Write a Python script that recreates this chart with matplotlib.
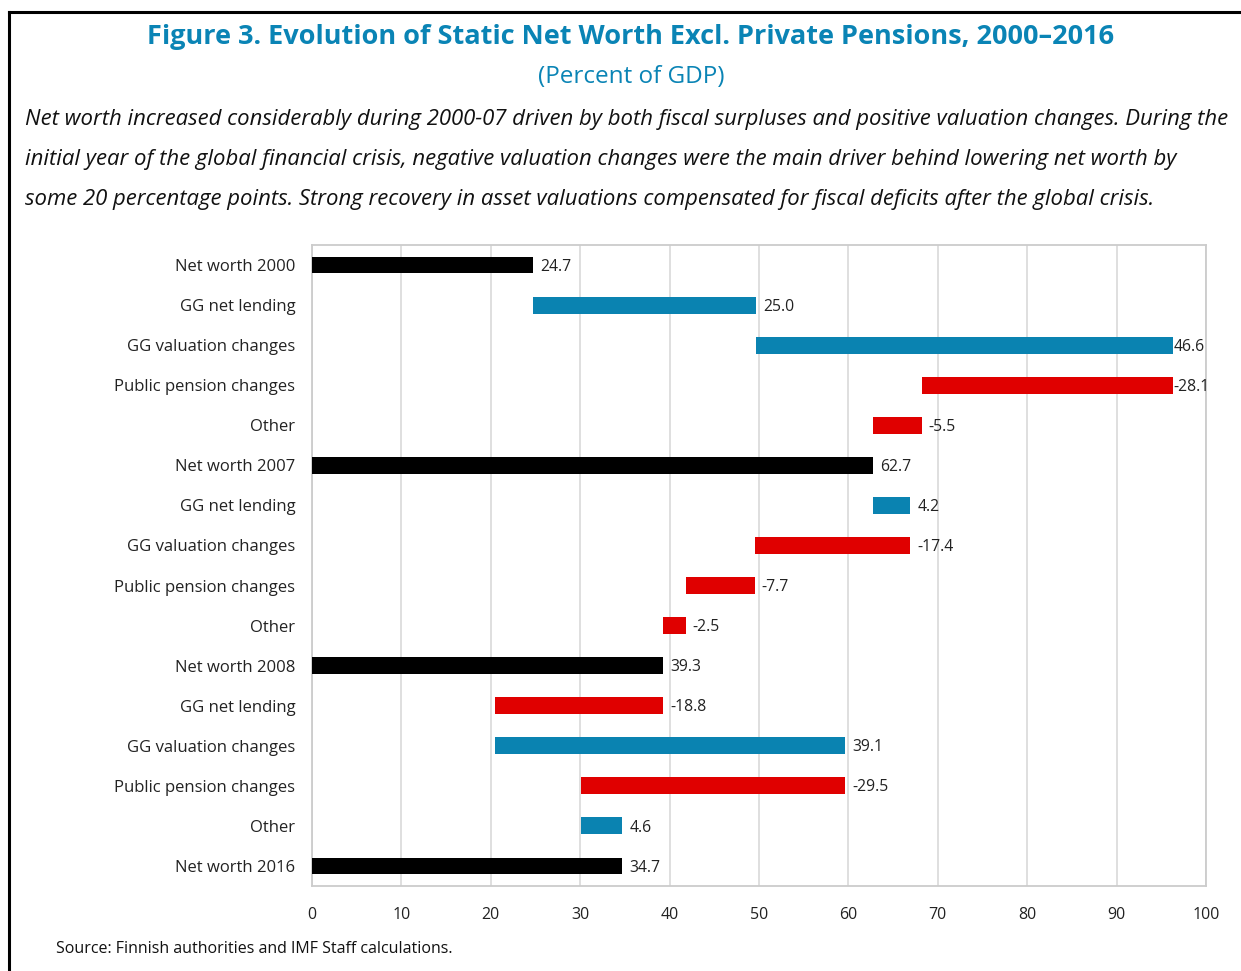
import matplotlib
matplotlib.use("Agg")
import matplotlib.pyplot as plt
from matplotlib.lines import Line2D

categories = ["Net worth 2000", "GG net lending", "GG valuation changes", "Public pension changes", "Other",
              "Net worth 2007", "GG net lending", "GG valuation changes", "Public pension changes", "Other",
              "Net worth 2008", "GG net lending", "GG valuation changes", "Public pension changes", "Other",
              "Net worth 2016"]
values = [24.7, 25.0, 46.6, -28.1, -5.5,
          62.7, 4.2, -17.4, -7.7, -2.5,
          39.3, -18.8, 39.1, -29.5, 4.6,
          34.7]
is_total = [True, False, False, False, False,
            True, False, False, False, False,
            True, False, False, False, False,
            True]
xticks = [0, 10, 20, 30, 40, 50, 60, 70, 80, 90, 100]

BLUE = "#0A83B1"
RED = "#E00000"
BLACK = "#000000"
FONT = "Open Sans"

W, H = 1241, 971
fig = plt.figure(figsize=(W / 100, H / 100), dpi=100)
fig.patch.set_facecolor("white")

# frame lines (top and left)
fig.add_artist(Line2D([9 / W, 1.0], [1 - 12 / H, 1 - 12 / H], color="black", lw=2.2, transform=fig.transFigure))
fig.add_artist(Line2D([9 / W, 9 / W], [0, 1 - 12 / H], color="black", lw=2.2, transform=fig.transFigure))

ax = fig.add_axes([312 / W, 1 - 886 / H, (1206 - 312) / W, (886 - 245) / H])

running = 0.0
for i, (cat, v, tot) in enumerate(zip(categories, values, is_total)):
    if tot:
        left, width, color = 0, v, BLACK
        running = v
        right_end = v
    else:
        if v >= 0:
            left = running
            color = BLUE
        else:
            left = running + v
            color = RED
        width = abs(v)
        running = running + v
        right_end = left + width
    off = 0.1 if right_end > 95 else 0.8
    ax.text(right_end + off, i + 0.04, f"{v:.1f}", va="center", ha="left", fontsize=11.3,
            family=FONT, color="#222222", zorder=4)
    ax.barh(i, width, left=left, height=0.42, color=color, zorder=3)

ax.set_xlim(0, 100)
ax.set_ylim(15.5, -0.5)
ax.set_xticks(xticks)
ax.set_xticklabels([str(t) for t in xticks], fontsize=11.5, family=FONT)
ax.set_yticks(range(len(categories)))
ax.set_yticklabels(categories, fontsize=12, family=FONT)
ax.tick_params(axis="both", length=0, colors="#222222")
ax.tick_params(axis="y", pad=12)
ax.tick_params(axis="x", pad=15)
ax.grid(axis="x", color="#D9D9D9", lw=1.2, zorder=0)
for s in ax.spines.values():
    s.set_color("#CCCCCC")
    s.set_linewidth(1.3)

fig.text(631 / W, 1 - 37 / H, "Figure 3. Evolution of Static Net Worth Excl. Private Pensions, 2000\u20132016",
         ha="center", va="center", fontsize=19.5, fontweight="bold", color="#0A84B5", family=FONT)
fig.text(631 / W, 1 - 77 / H, "(Percent of GDP)", ha="center", va="center", fontsize=17.5,
         color="#0A84B5", family=FONT)

lines = ["Net worth increased considerably during 2000-07 driven by both fiscal surpluses and positive valuation changes. During the",
         "initial year of the global financial crisis, negative valuation changes were the main driver behind lowering net worth by",
         "some 20 percentage points. Strong recovery in asset valuations compensated for fiscal deficits after the global crisis."]
for k, ln in enumerate(lines):
    fig.text(25 / W, 1 - (120 + 40 * k) / H, ln, ha="left", va="center", fontsize=15.9,
             style="italic", color="#111111", family=FONT)

fig.text(56 / W, 1 - 949 / H, "Source: Finnish authorities and IMF Staff calculations.", ha="left", va="center",
         fontsize=11.5, color="#111111", family=FONT)

fig.savefig("out.png", dpi=100)
